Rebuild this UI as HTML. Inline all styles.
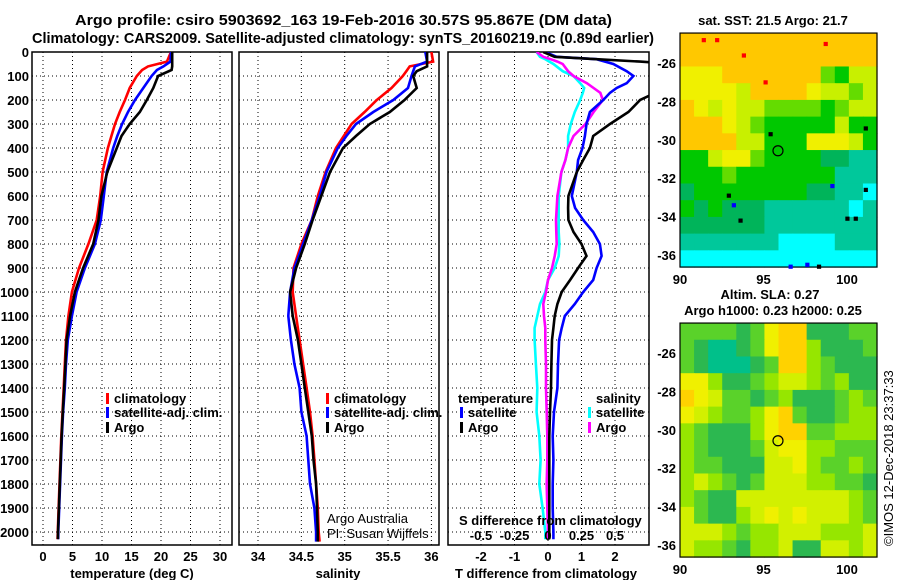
<!DOCTYPE html>
<html><head><meta charset="utf-8"><style>
body{margin:0;background:#fff;}
svg{display:block;font-family:"Liberation Sans",sans-serif;}
.b{font-weight:bold;font-size:13px;}
.g{stroke:#000;stroke-width:1;stroke-dasharray:1,3;}
</style></head><body>
<svg id="c" width="900" height="580" viewBox="0 0 900 580" xmlns="http://www.w3.org/2000/svg">
<defs>
<clipPath id="cp1"><rect x="32" y="52" width="200" height="493"/></clipPath>
<clipPath id="cp2"><rect x="239" y="52" width="200" height="493"/></clipPath>
<clipPath id="cp3"><rect x="448" y="52" width="201" height="493"/></clipPath>
</defs>
<text class="b" x="75" y="25" textLength="537" lengthAdjust="spacingAndGlyphs" style="font-size:15px">Argo profile: csiro 5903692_163 19-Feb-2016 30.57S 95.867E (DM data)</text>
<text class="b" x="32" y="43" textLength="622" lengthAdjust="spacingAndGlyphs" style="font-size:15px">Climatology: CARS2009. Satellite-adjusted climatology: synTS_20160219.nc (0.89d earlier)</text>
<g id="grids"></g>
<g id="lines"></g>
<g id="maps"></g>
<g id="txt"></g>
</svg>
<script>
// ---- data ----
const tDepth=[0,40,60,75,100,150,200,250,300,350,400,500,600,700,800,900,1000,1100,1200,1300,1400,1500,1600,1700,1800,1900,2000,2030];
const tClim=[21.7,21.0,17.8,16.8,15.9,14.7,13.9,13.0,12.2,11.6,11.0,10.1,9.7,9.1,7.7,6.1,4.9,4.3,3.9,3.7,3.5,3.3,3.1,2.95,2.8,2.65,2.5,2.45];
const tSat=[21.7,21.6,20.4,19.3,18.4,17.0,15.6,14.4,13.4,12.6,11.9,10.8,10.3,9.8,8.8,7.1,5.7,4.9,4.2,3.9,3.7,3.4,3.2,3.05,2.9,2.75,2.6,2.58];
const tArgo=[21.9,21.9,21.9,21.8,19.5,18.7,17.6,16.4,14.7,13.3,12.5,10.9,9.9,9.4,8.5,6.8,5.4,4.6,4.0,3.8,3.6,3.35,3.15,3.0,2.85,2.7,2.55,2.52];
const sDepth=[0,40,60,80,100,150,200,250,300,350,400,500,600,700,800,900,1000,1100,1200,1300,1400,1500,1600,1700,1800,1900,2000,2040];
const sClim=[36.0,36.02,35.75,35.71,35.67,35.54,35.37,35.23,35.08,34.99,34.9,34.78,34.69,34.62,34.5,34.41,34.40,34.44,34.48,34.52,34.56,34.6,34.63,34.65,34.67,34.69,34.70,34.71];
const sSat=[35.93,35.95,35.81,35.79,35.77,35.73,35.56,35.33,35.13,35.02,34.92,34.79,34.71,34.62,34.52,34.42,34.37,34.35,34.38,34.42,34.48,34.5,34.56,34.58,34.6,34.65,34.67,34.67];
const sArgo=[35.95,35.95,35.95,35.83,35.79,35.83,35.69,35.52,35.29,35.13,34.98,34.83,34.73,34.63,34.54,34.44,34.37,34.40,34.46,34.5,34.54,34.58,34.62,34.64,34.67,34.68,34.69,34.69];
const dDepth=[0,20,30,40,50,80,100,130,150,170,200,250,300,350,400,450,500,600,650,700,750,800,850,900,950,1000,1050,1100,1150,1200,1300,1400,1500,1600,1700,1800,1900,2000,2030];
const dTArgo=[-0.14,0.2,1.45,2.75,3.9,4.5,4.5,4.2,3.8,3.2,2.75,2.4,1.85,1.35,1.25,1.05,0.86,0.61,0.6,0.61,0.76,1.0,1.15,0.9,0.66,0.41,0.28,0.2,0.16,0.12,0.1,0.09,0.06,0.04,0.04,0.04,0.04,0.04,0.04];
const dTSat=[-0.09,0.26,1.45,1.7,1.95,2.35,2.55,2.35,2.05,1.85,1.65,1.25,1.15,1.1,1.03,0.9,0.86,0.71,0.81,1.05,1.35,1.55,1.6,1.45,1.35,1.05,0.8,0.5,0.41,0.33,0.3,0.28,0.18,0.14,0.16,0.14,0.14,0.16,0.16];
const dSArgo=[-0.085,-0.035,0.02,0.07,0.11,0.15,0.19,0.29,0.34,0.39,0.41,0.34,0.28,0.19,0.15,0.13,0.1,0.07,0.065,0.06,0.062,0.065,0.05,0.03,0,-0.015,-0.035,-0.03,-0.02,-0.02,-0.015,-0.015,-0.01,-0.005,-0.005,-0.01,-0.005,0,0];
const dSSat=[-0.085,-0.06,-0.02,0.01,0.04,0.11,0.19,0.24,0.27,0.26,0.24,0.2,0.17,0.15,0.15,0.13,0.1,0.08,0.08,0.08,0.08,0.085,0.08,0.05,0,-0.02,-0.06,-0.08,-0.1,-0.1,-0.09,-0.08,-0.085,-0.065,-0.055,-0.065,-0.04,-0.02,-0.02];
const depthTicks=[0,100,200,300,400,500,600,700,800,900,1000,1100,1200,1300,1400,1500,1600,1700,1800,1900,2000];
const tTicks=[0,5,10,15,20,25,30];
const sTicks=[34,34.5,35,35.5,36];
const dTTicks=[-2,-1,0,1,2];
const dSTicks=[-0.5,-0.25,0,0.25,0.5];
const latTicks=[-26,-28,-30,-32,-34,-36];
const lonTicks=[90,95,100];
const argoLon=95.867, argoLat=-30.57;
const sstGrid=["77777777777777","77777777777777","66677777774355","66665777765545","76565544443455","77765433333533","77775533366653","33566433332211","33343333333111","23333333322110","32322211111101","22222211111111","11111110000111","00000000000000"];
const slaGrid=["22221256611122","21001256631112","21000126632111","55311234432311","65422123111232","54322356211233","32111356622333","32111245533222","32211144532232","34321244433221","32114444444432","42113454544432","44432334443334","43321334114434"];
const sstPal=["#00ffff","#00c89b","#00b45a","#00c800","#64dc00","#c8f000","#f0f000","#ffc800"];
const slaPal=["#00c08a","#2cb850","#5ad22a","#96e600","#d2f000","#f0f000","#ffd200"];
// ---- scales ----
const yD=d=>52+0.24*d;
const xT=t=>43+5.9*t;
const xS=s=>258+86.7*(s-34);
const xdT=v=>548+33.5*v;
const xdS=v=>548+134*v;
const mx=lon=>680+16.7*(lon-90);
const myA=lat=>63-19.2*(lat+26);
const myB=lat=>353-19.2*(lat+26);
const NS="http://www.w3.org/2000/svg";
function mk(tag,at,parent,txt){const e=document.createElementNS(NS,tag);for(const k in at)e.setAttribute(k,at[k]);if(txt!==undefined)e.textContent=txt;(parent||document.getElementById('c')).appendChild(e);return e;}
const G=document.getElementById('grids'),L=document.getElementById('lines'),M=document.getElementById('maps'),T=document.getElementById('txt');
const panels=[[32,232,'temperature-panel'],[239,439,'salinity-panel'],[448,649,'difference-panel']];
panels.forEach(p=>{
  depthTicks.forEach(d=>{if(d>0){const l=mk('line',{x1:p[0],x2:p[1],y1:yD(d),y2:yD(d),class:'g'},G);}});
});
tTicks.forEach(t=>{const l=mk('line',{x1:xT(t),x2:xT(t),y1:52,y2:545,class:'g'},G);
 const e=mk('text',{x:xT(t),y:561,'text-anchor':'middle',class:'b'},T,String(t));});
sTicks.forEach(s=>{const l=mk('line',{x1:xS(s),x2:xS(s),y1:52,y2:545,class:'g'},G);
 const e=mk('text',{x:xS(s),y:561,'text-anchor':'middle',class:'b'},T,String(s));});
dTTicks.forEach(v=>{const l=mk('line',{x1:xdT(v),x2:xdT(v),y1:52,y2:545,class:'g'},G);
 const e=mk('text',{x:xdT(v),y:561,'text-anchor':'middle',class:'b'},T,String(v));});
dSTicks.forEach(v=>{const e=mk('text',{x:xdS(v),y:540,'text-anchor':'middle',class:'b'},T,String(v));});
depthTicks.forEach(d=>{const e=mk('text',{x:29,y:yD(d)+5,'text-anchor':'end',class:'b'},T,String(d));});
panels.forEach(p=>{const r=mk('rect',{x:p[0],y:52,width:p[1]-p[0],height:493,fill:'none',stroke:'#000','stroke-width':1.5},G);});
function line(dep,vals,xf,col,clip,name){
  const pts=dep.map((d,i)=>xf(vals[i]).toFixed(1)+','+yD(d).toFixed(1)).join(' ');
  const e=mk('polyline',{points:pts,fill:'none',stroke:col,'stroke-width':2.6,'clip-path':'url(#'+clip+')'},L);
  
}
line(tDepth,tClim,xT,'#ff0000','cp1','temp-climatology-line');
line(tDepth,tSat,xT,'#0000ff','cp1','temp-satellite-line');
line(tDepth,tArgo,xT,'#000','cp1','temp-argo-line');
line(sDepth,sClim,xS,'#ff0000','cp2','sal-climatology-line');
line(sDepth,sSat,xS,'#0000ff','cp2','sal-satellite-line');
line(sDepth,sArgo,xS,'#000','cp2','sal-argo-line');
line(dDepth,dSSat,xdS,'#00ffff','cp3','s-diff-satellite-line');
line(dDepth,dSArgo,xdS,'#ff00ff','cp3','s-diff-argo-line');
line(dDepth,dTSat,xdT,'#0000ff','cp3','t-diff-satellite-line');
line(dDepth,dTArgo,xdT,'#000','cp3','t-diff-argo-line');
function map(grid,pal,my,name){
  const g=mk('g',{},M);
  const cw=197/grid[0].length, ch=234/grid.length, top=my(-24.44);
  grid.forEach((row,r)=>{[...row].forEach((c,k)=>{
    mk('rect',{x:(680+k*cw).toFixed(2),y:(top+r*ch).toFixed(2),width:(cw+0.6).toFixed(2),height:(ch+0.6).toFixed(2),fill:pal[+c]},g);
  });});
  mk('rect',{x:680,y:top,width:197,height:234,fill:'none',stroke:'#000','stroke-width':1.2},g);
  const ci=mk('circle',{cx:mx(argoLon),cy:my(argoLat),r:5,fill:'none',stroke:'#000','stroke-width':1.2},g);
  
  latTicks.forEach(l=>{const e=mk('text',{x:676,y:my(l)+5,'text-anchor':'end',class:'b'},T,String(l));});
  lonTicks.forEach(l=>{const e=mk('text',{x:mx(l),y:top+234+17,'text-anchor':'middle',class:'b'},T,String(l));});
}
map(sstGrid,sstPal,myA,'sst-map');
map(slaGrid,slaPal,myB,'sla-map');
[[91.3,-24.7,'#f00'],[92.1,-24.7,'#f00'],[93.7,-25.5,'#f00'],[98.6,-24.9,'#f00'],[95,-26.9,'#f00'],[92.8,-32.8,'#000'],[93.1,-33.3,'#00f'],[95.3,-29.6,'#000'],[101,-29.3,'#000'],[101,-32.5,'#000'],[99.9,-34,'#000'],[100.4,-34,'#000'],[98.2,-36.5,'#000'],[97.5,-36.4,'#00f'],[96.5,-36.5,'#00f'],[93.5,-34.1,'#000'],[99,-32.3,'#00f']].forEach(s=>{
  mk('rect',{x:mx(s[0]),y:myA(s[1]),width:4.2,height:4.2,fill:s[2]},M);
});
function tx(x,y,s,name,extra){const a=Object.assign({x:x,y:y,class:'b'},extra||{});const e=mk('text',a,T,s);return e;}
function bar(x,y,col){mk('rect',{x:x,y:y-10,width:3,height:11,fill:col},T);}
tx(132,578,'temperature (deg C)','temp-axis-title',{'text-anchor':'middle'});
tx(338,578,'salinity','sal-axis-title',{'text-anchor':'middle'});
tx(546,578,'T difference from climatology','dt-axis-title',{'text-anchor':'middle'});
tx(459,525,'S difference from climatology','ds-axis-title');
[[106,'temp'],[326,'sal']].forEach(([x,p])=>{
  bar(x,403,'#f00');tx(x+8,403,'climatology',p+'-legend-climatology');
  bar(x,417,'#00f');tx(x+8,417,'satellite-adj. clim.',p+'-legend-satellite');
  bar(x,432,'#000');tx(x+8,432,'Argo',p+'-legend-argo');
});
tx(458,403,'temperature','legend-temperature-header');
bar(460,417,'#00f');tx(468,417,'satellite','legend-t-satellite');
bar(460,432,'#000');tx(468,432,'Argo','legend-t-argo');
tx(596,403,'salinity','legend-salinity-header');
bar(588,417,'#0ff');tx(596,417,'satellite','legend-s-satellite');
bar(588,432,'#f0f');tx(596,432,'Argo','legend-s-argo');
tx(327,523,'Argo Australia','credit-argo-australia',{'font-weight':'normal','font-size':'13px',class:''});
tx(327,538,'PI: Susan Wijffels','credit-pi',{'font-weight':'normal','font-size':'13px',class:''});
tx(773,25,'sat. SST: 21.5 Argo: 21.7','sst-map-title',{'text-anchor':'middle'});
tx(770,299,'Altim. SLA: 0.27','sla-map-title',{'text-anchor':'middle'});
tx(773,315,'Argo h1000: 0.23 h2000: 0.25','sla-map-subtitle',{'text-anchor':'middle'});
tx(893,546,'©IMOS 12-Dec-2018 23:37:33','copyright',{'font-weight':'normal','font-size':'13px',class:'',transform:'rotate(-90 893 546)'});
</script>
</body></html>
